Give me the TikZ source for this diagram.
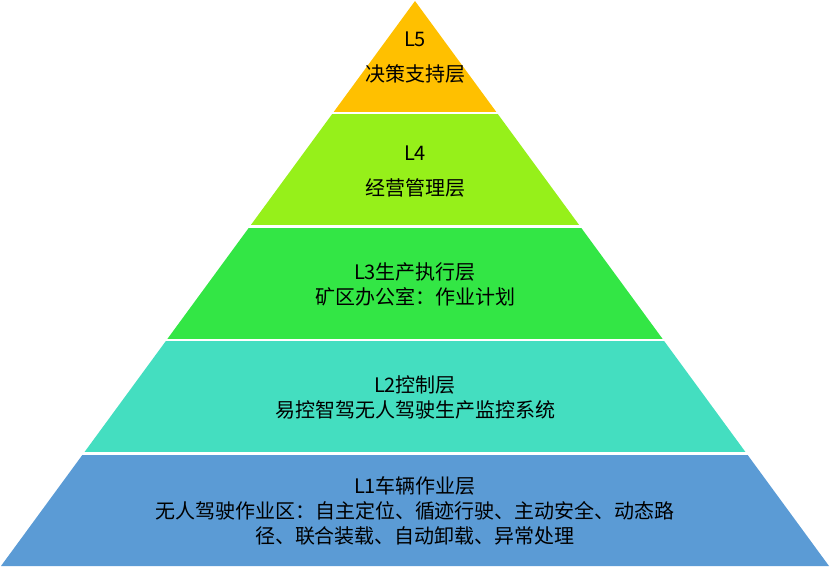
\documentclass[tikz,border=0pt]{standalone}
\usepackage{fontspec}
\newfontfamily\cjk{Noto Sans CJK SC}
\definecolor{cFive}{HTML}{FFC000}
\definecolor{cFour}{HTML}{96F01A}
\definecolor{cThree}{HTML}{33E645}
\definecolor{cTwo}{HTML}{44DEC0}
\definecolor{cOne}{HTML}{5B9BD5}
\tikzset{
  layer/.style={draw=none},
  sep/.style={draw=white, line width=2.5pt},
  lbl/.style={inner sep=0pt, align=center, text=black, font=\cjk\fontsize{20}{25}\selectfont}
}
\begin{document}
\begin{tikzpicture}[x=1pt,y=-1pt]
\useasboundingbox (0,0) rectangle (831,567);
% apex (415,1), base (1,566)-(829,566)
\coordinate (A) at (415,1);
\coordinate (B4l) at ({415-(113-1)/565*414},113);
\coordinate (B4r) at ({415+(113-1)/565*414},113);
\coordinate (B3l) at ({415-(226.5-1)/565*414},226.5);
\coordinate (B3r) at ({415+(226.5-1)/565*414},226.5);
\coordinate (B2l) at ({415-(340-1)/565*414},340);
\coordinate (B2r) at ({415+(340-1)/565*414},340);
\coordinate (B1l) at ({415-(453.5-1)/565*414},453.5);
\coordinate (B1r) at ({415+(453.5-1)/565*414},453.5);
\coordinate (BL) at (1,566);
\coordinate (BR) at (829,566);
\fill[cFive] (A) -- (B4r) -- (B4l) -- cycle;
\fill[cFour] (B4l) -- (B4r) -- (B3r) -- (B3l) -- cycle;
\fill[cThree] (B3l) -- (B3r) -- (B2r) -- (B2l) -- cycle;
\fill[cTwo] (B2l) -- (B2r) -- (B1r) -- (B1l) -- cycle;
\fill[cOne] (B1l) -- (B1r) -- (BR) -- (BL) -- cycle;
\draw[sep] ([xshift=-3pt]B4l) -- ([xshift=3pt]B4r);
\draw[sep] ([xshift=-3pt]B3l) -- ([xshift=3pt]B3r);
\draw[sep] ([xshift=-3pt]B2l) -- ([xshift=3pt]B2r);
\draw[sep] ([xshift=-3pt]B1l) -- ([xshift=3pt]B1r);
\node[lbl] (t5a) at (415,39) {L5};
\node[lbl] (t5b) at (415,74) {决策支持层};
\node[lbl] (t4a) at (415,153) {L4};
\node[lbl] (t4b) at (415,188) {经营管理层};
\node[lbl] (t3) at (415,284) {L3生产执行层\\矿区办公室：作业计划};
\node[lbl] (t2) at (415,397) {L2控制层\\易控智驾无人驾驶生产监控系统};
\node[lbl] (t1) at (415,511) {L1车辆作业层\\无人驾驶作业区：自主定位、循迹行驶、主动安全、动态路\\径、联合装载、自动卸载、异常处理};
\end{tikzpicture}
\end{document}
